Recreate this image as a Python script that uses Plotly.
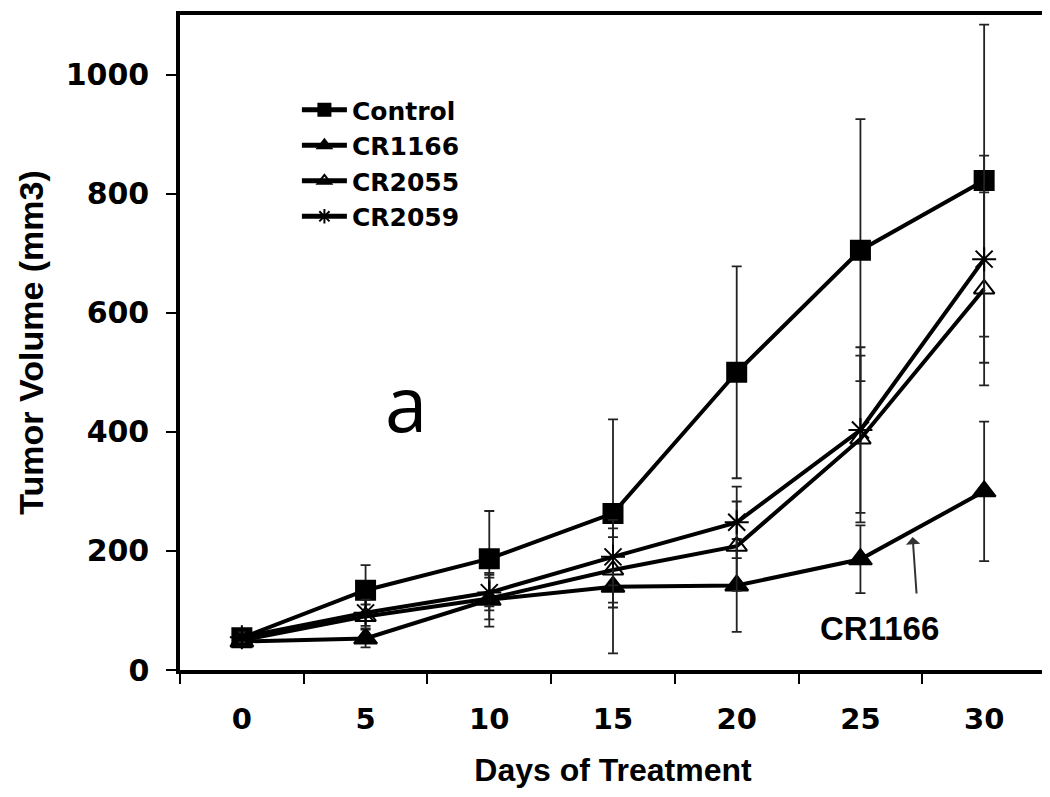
import plotly.graph_objects as go

days = ["0", "5", "10", "15", "20", "25", "30"]
control = [54, 134, 187, 263, 500, 705, 822]
control_err = [10, 42, 80, 158, 178, 220, 262]
cr1166 = [48, 53, 118, 140, 142, 186, 300]
cr1166_err = [8, 15, 45, 112, 78, 57, 117]
cr2055 = [50, 90, 120, 168, 208, 388, 640]
cr2055_err = [8, 20, 35, 55, 75, 140, 162]
cr2059 = [55, 96, 130, 190, 248, 403, 690]
cr2059_err = [8, 22, 30, 48, 60, 139, 174]

series = [
    ("Control", control, control_err, "square", 19),
    ("CR1166", cr1166, cr1166_err, "triangle-up", 20),
    ("CR2055", cr2055, cr2055_err, "triangle-up-open", 18),
    ("CR2059", cr2059, cr2059_err, "asterisk-open", 20),
]

fig = go.Figure()
for name, vals, errs, sym, sz in series:
    fig.add_trace(go.Scatter(
        x=days, y=vals, name=name, mode="lines+markers",
        line=dict(color="black", width=4),
        marker=dict(symbol=sym, size=sz, color="black",
                    line=dict(color="black", width=2)),
        error_y=dict(type="data", array=errs, visible=True,
                     color="#222222", thickness=1.8, width=5),
    ))

bold = "DejaVu Sans"
fig.update_layout(
    width=1042, height=789,
    paper_bgcolor="white", plot_bgcolor="white",
    margin=dict(l=172, r=4, t=7, b=127),
    showlegend=True,
    legend=dict(x=0.135, y=0.890, xanchor="left", yanchor="top",
                bgcolor="rgba(0,0,0,0)", itemwidth=45,
                font=dict(family=bold, size=25, color="black", weight="bold"),
                itemsizing="constant", tracegroupgap=0),
    font=dict(family=bold, color="black"),
)
fig.update_xaxes(
    type="category", range=[-0.5, 6.5], tickson="boundaries", automargin=False,
    showline=True, linecolor="black", linewidth=3.5, mirror=True,
    ticks="outside", ticklen=10, tickwidth=2, tickcolor="black",
    showgrid=False, zeroline=False,
    tickfont=dict(family=bold, size=29, color="black", weight="bold"),
    ticklabelstandoff=20,
    title=dict(text="Days of Treatment", standoff=25,
               font=dict(family="Liberation Sans", size=32, color="black", weight="bold")),
)
fig.update_yaxes(
    range=[0, 1100], tickvals=[0, 200, 400, 600, 800, 1000], automargin=False,
    showline=True, linecolor="black", linewidth=3.5, mirror=True,
    ticks="outside", ticklen=10, tickwidth=2, tickcolor="black",
    showgrid=False, zeroline=False,
    tickfont=dict(family=bold, size=30, color="black", weight="bold"),
    ticklabelstandoff=11,
)

fig.add_annotation(text="Tumor Volume (mm3)", xref="paper", yref="paper",
                   x=-0.173, y=0.5, textangle=-90, xanchor="center", yanchor="middle",
                   showarrow=False, borderpad=0,
                   font=dict(family="Liberation Sans", size=34, color="black", weight="bold"))
fig.add_annotation(text="a", xref="paper", yref="paper", x=0.261, y=0.409,
                   xanchor="center", yanchor="middle", showarrow=False,
                   font=dict(family="Open Sans", size=76, color="black"))
fig.add_annotation(text="CR1166", xref="paper", yref="paper", x=0.808, y=0.064,
                   xanchor="center", yanchor="middle", showarrow=False,
                   font=dict(family="Liberation Sans", size=33, color="black", weight="bold"))
fig.add_annotation(text="", xref="paper", yref="paper", x=0.846, y=0.203,
                   ax=4, ay=58, showarrow=True, arrowhead=1, arrowsize=1.2,
                   arrowwidth=2, arrowcolor="#333333")

fig.write_html("out.html")
